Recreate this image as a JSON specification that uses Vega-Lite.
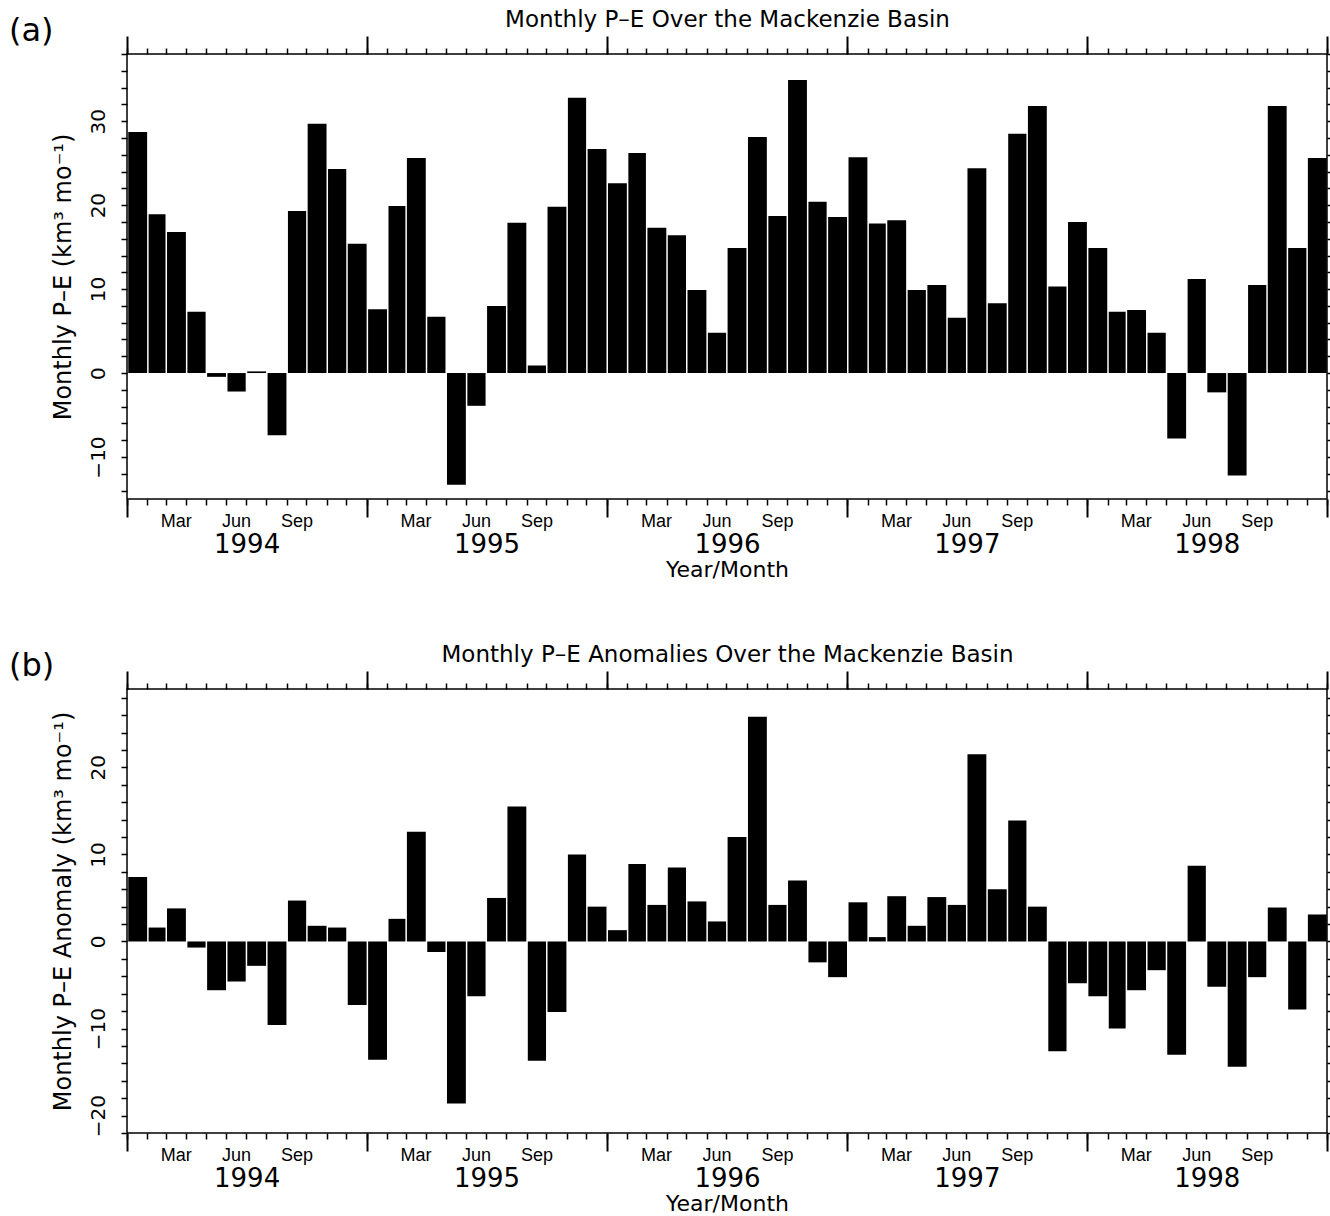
{
  "$schema": "https://vega.github.io/schema/vega-lite/v6.json",
  "background": "white",
  "padding": {"left": 8, "top": 7, "right": 3, "bottom": 0},
  "spacing": 61,
  "datasets": {
    "mk": [
      {"date": "1994-01", "pe": 28.7, "anom": 7.4},
      {"date": "1994-02", "pe": 18.9, "anom": 1.6},
      {"date": "1994-03", "pe": 16.8, "anom": 3.8},
      {"date": "1994-04", "pe": 7.3, "anom": -0.7},
      {"date": "1994-05", "pe": -0.45, "anom": -5.6},
      {"date": "1994-06", "pe": -2.2, "anom": -4.6},
      {"date": "1994-07", "pe": 0.2, "anom": -2.8},
      {"date": "1994-08", "pe": -7.4, "anom": -9.6},
      {"date": "1994-09", "pe": 19.3, "anom": 4.7},
      {"date": "1994-10", "pe": 29.7, "anom": 1.8},
      {"date": "1994-11", "pe": 24.3, "anom": 1.6},
      {"date": "1994-12", "pe": 15.4, "anom": -7.3},
      {"date": "1995-01", "pe": 7.6, "anom": -13.6},
      {"date": "1995-02", "pe": 19.9, "anom": 2.6},
      {"date": "1995-03", "pe": 25.6, "anom": 12.6},
      {"date": "1995-04", "pe": 6.7, "anom": -1.2},
      {"date": "1995-05", "pe": -13.3, "anom": -18.6},
      {"date": "1995-06", "pe": -3.9, "anom": -6.3},
      {"date": "1995-07", "pe": 8.0, "anom": 5.0},
      {"date": "1995-08", "pe": 17.9, "anom": 15.5},
      {"date": "1995-09", "pe": 0.9, "anom": -13.7},
      {"date": "1995-10", "pe": 19.8, "anom": -8.1},
      {"date": "1995-11", "pe": 32.8, "anom": 10.0},
      {"date": "1995-12", "pe": 26.7, "anom": 4.0},
      {"date": "1996-01", "pe": 22.6, "anom": 1.3},
      {"date": "1996-02", "pe": 26.2, "anom": 8.9},
      {"date": "1996-03", "pe": 17.3, "anom": 4.2},
      {"date": "1996-04", "pe": 16.4, "anom": 8.5},
      {"date": "1996-05", "pe": 9.9, "anom": 4.6},
      {"date": "1996-06", "pe": 4.8, "anom": 2.3},
      {"date": "1996-07", "pe": 14.9, "anom": 12.0},
      {"date": "1996-08", "pe": 28.1, "anom": 25.8},
      {"date": "1996-09", "pe": 18.7, "anom": 4.2},
      {"date": "1996-10", "pe": 34.9, "anom": 7.0},
      {"date": "1996-11", "pe": 20.4, "anom": -2.4},
      {"date": "1996-12", "pe": 18.6, "anom": -4.1},
      {"date": "1997-01", "pe": 25.7, "anom": 4.5},
      {"date": "1997-02", "pe": 17.8, "anom": 0.5},
      {"date": "1997-03", "pe": 18.2, "anom": 5.2},
      {"date": "1997-04", "pe": 9.9, "anom": 1.8},
      {"date": "1997-05", "pe": 10.5, "anom": 5.1},
      {"date": "1997-06", "pe": 6.6, "anom": 4.2},
      {"date": "1997-07", "pe": 24.4, "anom": 21.5},
      {"date": "1997-08", "pe": 8.3, "anom": 6.0},
      {"date": "1997-09", "pe": 28.5, "anom": 13.9},
      {"date": "1997-10", "pe": 31.8, "anom": 4.0},
      {"date": "1997-11", "pe": 10.3, "anom": -12.6},
      {"date": "1997-12", "pe": 18.0, "anom": -4.8},
      {"date": "1998-01", "pe": 14.9, "anom": -6.3},
      {"date": "1998-02", "pe": 7.3, "anom": -10.0},
      {"date": "1998-03", "pe": 7.5, "anom": -5.6},
      {"date": "1998-04", "pe": 4.8, "anom": -3.3},
      {"date": "1998-05", "pe": -7.8, "anom": -13.0},
      {"date": "1998-06", "pe": 11.2, "anom": 8.7},
      {"date": "1998-07", "pe": -2.3, "anom": -5.2},
      {"date": "1998-08", "pe": -12.2, "anom": -14.4},
      {"date": "1998-09", "pe": 10.5, "anom": -4.1},
      {"date": "1998-10", "pe": 31.8, "anom": 3.9},
      {"date": "1998-11", "pe": 14.9, "anom": -7.8},
      {"date": "1998-12", "pe": 25.6, "anom": 3.1}
    ]
  },
  "vconcat": [
    {
      "width": 1200,
      "height": 445,
      "data": {"name": "mk"},
      "title": {"text": "(a)", "anchor": "start", "frame": "group", "orient": "top", "font": "DejaVu Sans", "fontSize": 32, "fontWeight": "normal", "color": "black", "offset": -40, "dx": -118},
      "layer": [
        {
          "mark": {"type": "bar", "color": "black", "binSpacing": 1.5},
          "encoding": {
            "x": {"field": "date", "timeUnit": "utcyearmonth", "type": "temporal",
              "scale": {"domain": [{"year": 1994, "month": 1, "date": 1, "utc": true}, {"year": 1999, "month": 1, "date": 1, "utc": true}]},
              "axis": {"orient": "bottom", "tickCount": {"interval": "month", "step": 1}, "labels": false, "tickSize": 6, "title": null}},
            "y": {"field": "pe", "type": "quantitative", "scale": {"domain": [-15, 38], "nice": false, "zero": false},
              "axis": {"orient": "left", "values": [-14,-12,-10,-8,-6,-4,-2,0,2,4,6,8,10,12,14,16,18,20,22,24,26,28,30,32,34,36,38],
                "tickSize": 6, "labelExpr": "datum.value % 10 === 0 ? datum.label : ''", "labelOverlap": false,
                "labelAngle": 270, "labelAlign": "center", "labelBaseline": "alphabetic", "labelPadding": 17, "labelFontSize": 20,
                "title": "Monthly P–E (km³ mo⁻¹)", "titleFontSize": 24, "titlePadding": 13}}
          }
        },
        {
          "mark": {"type": "point", "opacity": 0},
          "encoding": {
            "x": {"field": "date", "timeUnit": "utcyearmonth", "type": "temporal",
              "axis": {"orient": "bottom", "tickCount": {"interval": "year", "step": 1}, "labels": false, "tickSize": 18, "tickWidth": 2, "title": null}},
            "y": {"field": "pe", "type": "quantitative",
              "axis": {"orient": "right", "values": [-14,-12,-10,-8,-6,-4,-2,0,2,4,6,8,10,12,14,16,18,20,22,24,26,28,30,32,34,36,38], "tickSize": 6, "labels": false, "title": null}}
          }
        },
        {
          "mark": {"type": "point", "opacity": 0},
          "encoding": {
            "x": {"field": "date", "timeUnit": "utcyearmonth", "type": "temporal",
              "axis": {"orient": "bottom", "values": [
                {"year": 1994, "month": 3, "date": 16, "utc": true}, {"year": 1994, "month": 6, "date": 16, "utc": true}, {"year": 1994, "month": 9, "date": 16, "utc": true},
                {"year": 1995, "month": 3, "date": 16, "utc": true}, {"year": 1995, "month": 6, "date": 16, "utc": true}, {"year": 1995, "month": 9, "date": 16, "utc": true},
                {"year": 1996, "month": 3, "date": 16, "utc": true}, {"year": 1996, "month": 6, "date": 16, "utc": true}, {"year": 1996, "month": 9, "date": 16, "utc": true},
                {"year": 1997, "month": 3, "date": 16, "utc": true}, {"year": 1997, "month": 6, "date": 16, "utc": true}, {"year": 1997, "month": 9, "date": 16, "utc": true},
                {"year": 1998, "month": 3, "date": 16, "utc": true}, {"year": 1998, "month": 6, "date": 16, "utc": true}, {"year": 1998, "month": 9, "date": 16, "utc": true}],
                "ticks": false, "tickSize": 0, "format": "%b", "labelFont": "Liberation Sans", "labelFontSize": 18, "labelPadding": 13, "labelFlush": false, "labelOverlap": false, "title": null}},
            "y": {"field": "pe", "type": "quantitative", "axis": null}
          }
        },
        {
          "mark": {"type": "point", "opacity": 0},
          "encoding": {
            "x": {"field": "date", "timeUnit": "utcyearmonth", "type": "temporal",
              "axis": {"orient": "bottom", "values": [
                {"year": 1994, "month": 7, "date": 2, "utc": true}, {"year": 1995, "month": 7, "date": 2, "utc": true}, {"year": 1996, "month": 7, "date": 2, "utc": true},
                {"year": 1997, "month": 7, "date": 2, "utc": true}, {"year": 1998, "month": 7, "date": 2, "utc": true}],
                "ticks": false, "tickSize": 0, "format": "%Y", "labelFontSize": 26, "labelPadding": 32, "labelFlush": false, "labelOverlap": false,
                "title": "Year/Month", "titleFontSize": 22, "titlePadding": 2}},
            "y": {"field": "pe", "type": "quantitative", "axis": null}
          }
        },
        {
          "mark": {"type": "point", "opacity": 0},
          "encoding": {
            "x": {"field": "date", "timeUnit": "utcyearmonth", "type": "temporal",
              "axis": {"orient": "top", "tickCount": {"interval": "month", "step": 1}, "labels": false, "tickSize": 6, "title": null}},
            "y": {"field": "pe", "type": "quantitative", "axis": null}
          }
        },
        {
          "mark": {"type": "point", "opacity": 0},
          "encoding": {
            "x": {"field": "date", "timeUnit": "utcyearmonth", "type": "temporal",
              "axis": {"orient": "top", "tickCount": {"interval": "year", "step": 1}, "labels": false, "tickSize": 18, "tickWidth": 2,
                "title": "Monthly P–E Over the Mackenzie Basin", "titleFontSize": 23, "titlePadding": 4}},
            "y": {"field": "pe", "type": "quantitative", "axis": null}
          }
        }
      ],
      "resolve": {"axis": {"x": "independent", "y": "independent"}}
    },
    {
      "width": 1200,
      "height": 444,
      "data": {"name": "mk"},
      "title": {"text": "(b)", "anchor": "start", "frame": "group", "orient": "top", "font": "DejaVu Sans", "fontSize": 32, "fontWeight": "normal", "color": "black", "offset": -40, "dx": -118},
      "layer": [
        {
          "mark": {"type": "bar", "color": "black", "binSpacing": 1.5},
          "encoding": {
            "x": {"field": "date", "timeUnit": "utcyearmonth", "type": "temporal",
              "scale": {"domain": [{"year": 1994, "month": 1, "date": 1, "utc": true}, {"year": 1999, "month": 1, "date": 1, "utc": true}]},
              "axis": {"orient": "bottom", "tickCount": {"interval": "month", "step": 1}, "labels": false, "tickSize": 6, "title": null}},
            "y": {"field": "anom", "type": "quantitative", "scale": {"domain": [-22, 29], "nice": false, "zero": false},
              "axis": {"orient": "left", "values": [-22,-20,-18,-16,-14,-12,-10,-8,-6,-4,-2,0,2,4,6,8,10,12,14,16,18,20,22,24,26,28],
                "tickSize": 6, "labelExpr": "datum.value % 10 === 0 ? datum.label : ''", "labelOverlap": false,
                "labelAngle": 270, "labelAlign": "center", "labelBaseline": "alphabetic", "labelPadding": 17, "labelFontSize": 20,
                "title": "Monthly P–E Anomaly (km³ mo⁻¹)", "titleFontSize": 24, "titlePadding": 13}}
          }
        },
        {
          "mark": {"type": "point", "opacity": 0},
          "encoding": {
            "x": {"field": "date", "timeUnit": "utcyearmonth", "type": "temporal",
              "axis": {"orient": "bottom", "tickCount": {"interval": "year", "step": 1}, "labels": false, "tickSize": 18, "tickWidth": 2, "title": null}},
            "y": {"field": "anom", "type": "quantitative",
              "axis": {"orient": "right", "values": [-22,-20,-18,-16,-14,-12,-10,-8,-6,-4,-2,0,2,4,6,8,10,12,14,16,18,20,22,24,26,28], "tickSize": 6, "labels": false, "title": null}}
          }
        },
        {
          "mark": {"type": "point", "opacity": 0},
          "encoding": {
            "x": {"field": "date", "timeUnit": "utcyearmonth", "type": "temporal",
              "axis": {"orient": "bottom", "values": [
                {"year": 1994, "month": 3, "date": 16, "utc": true}, {"year": 1994, "month": 6, "date": 16, "utc": true}, {"year": 1994, "month": 9, "date": 16, "utc": true},
                {"year": 1995, "month": 3, "date": 16, "utc": true}, {"year": 1995, "month": 6, "date": 16, "utc": true}, {"year": 1995, "month": 9, "date": 16, "utc": true},
                {"year": 1996, "month": 3, "date": 16, "utc": true}, {"year": 1996, "month": 6, "date": 16, "utc": true}, {"year": 1996, "month": 9, "date": 16, "utc": true},
                {"year": 1997, "month": 3, "date": 16, "utc": true}, {"year": 1997, "month": 6, "date": 16, "utc": true}, {"year": 1997, "month": 9, "date": 16, "utc": true},
                {"year": 1998, "month": 3, "date": 16, "utc": true}, {"year": 1998, "month": 6, "date": 16, "utc": true}, {"year": 1998, "month": 9, "date": 16, "utc": true}],
                "ticks": false, "tickSize": 0, "format": "%b", "labelFont": "Liberation Sans", "labelFontSize": 18, "labelPadding": 13, "labelFlush": false, "labelOverlap": false, "title": null}},
            "y": {"field": "anom", "type": "quantitative", "axis": null}
          }
        },
        {
          "mark": {"type": "point", "opacity": 0},
          "encoding": {
            "x": {"field": "date", "timeUnit": "utcyearmonth", "type": "temporal",
              "axis": {"orient": "bottom", "values": [
                {"year": 1994, "month": 7, "date": 2, "utc": true}, {"year": 1995, "month": 7, "date": 2, "utc": true}, {"year": 1996, "month": 7, "date": 2, "utc": true},
                {"year": 1997, "month": 7, "date": 2, "utc": true}, {"year": 1998, "month": 7, "date": 2, "utc": true}],
                "ticks": false, "tickSize": 0, "format": "%Y", "labelFontSize": 26, "labelPadding": 32, "labelFlush": false, "labelOverlap": false,
                "title": "Year/Month", "titleFontSize": 22, "titlePadding": 2}},
            "y": {"field": "anom", "type": "quantitative", "axis": null}
          }
        },
        {
          "mark": {"type": "point", "opacity": 0},
          "encoding": {
            "x": {"field": "date", "timeUnit": "utcyearmonth", "type": "temporal",
              "axis": {"orient": "top", "tickCount": {"interval": "month", "step": 1}, "labels": false, "tickSize": 6, "title": null}},
            "y": {"field": "anom", "type": "quantitative", "axis": null}
          }
        },
        {
          "mark": {"type": "point", "opacity": 0},
          "encoding": {
            "x": {"field": "date", "timeUnit": "utcyearmonth", "type": "temporal",
              "axis": {"orient": "top", "tickCount": {"interval": "year", "step": 1}, "labels": false, "tickSize": 18, "tickWidth": 2,
                "title": "Monthly P–E Anomalies Over the Mackenzie Basin", "titleFontSize": 23, "titlePadding": 4}},
            "y": {"field": "anom", "type": "quantitative", "axis": null}
          }
        }
      ],
      "resolve": {"axis": {"x": "independent", "y": "independent"}}
    }
  ],
  "config": {
    "view": {"stroke": "black", "strokeWidth": 1.5},
    "axis": {"grid": false, "domain": false, "tickColor": "black", "tickWidth": 1.5, "labelColor": "black", "titleColor": "black",
      "labelFont": "DejaVu Sans", "titleFont": "DejaVu Sans", "titleFontWeight": "normal"}
  }
}
